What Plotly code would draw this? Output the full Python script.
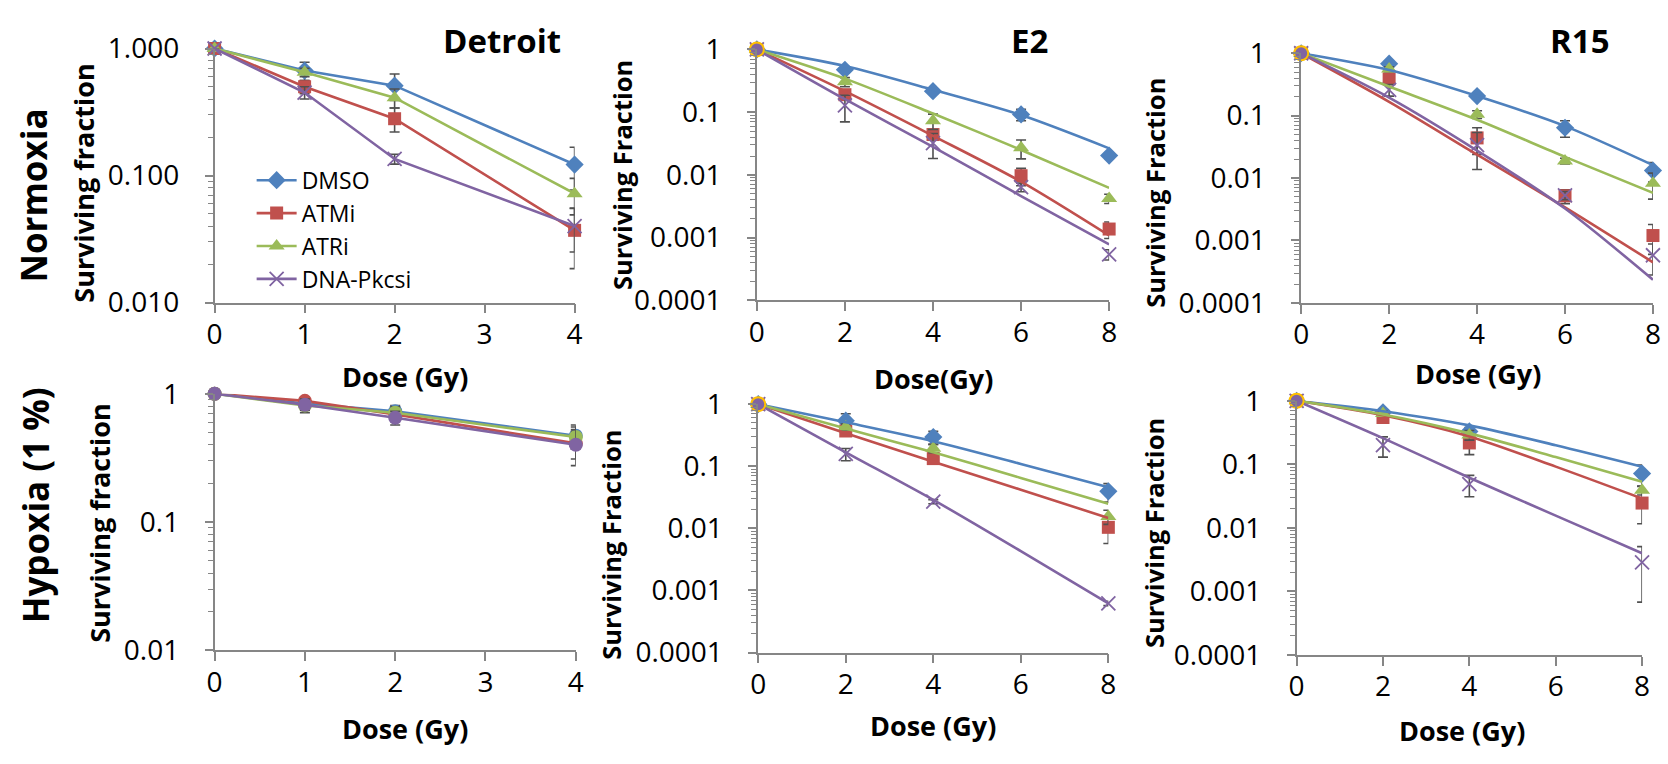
import plotly.graph_objects as go

W, H = 1668, 764

# ---- series names and colours ----
series = ["DMSO", "ATMi", "ATRi", "DNA-Pkcsi"]
colors = {"DMSO": "#4F81BD", "ATMi": "#C0504D", "ATRi": "#9BBB59", "DNA-Pkcsi": "#8064A2"}
symbols = {"DMSO": "diamond", "ATMi": "square", "ATRi": "triangle-up", "DNA-Pkcsi": "x-thin"}

# ---- Detroit ----
detroit_dose = [0, 1, 2, 4]
detroit_norm = {
    "DMSO": [1, 0.67, 0.51, 0.122],
    "ATMi": [1, 0.50, 0.28, 0.037],
    "ATRi": [1, 0.65, 0.41, 0.072],
    "DNA-Pkcsi": [1, 0.45, 0.135, 0.040],
}
detroit_norm_err = {
    "DMSO": [0, 0.11, 0.12, 0.045],
    "ATMi": [0, 0.06, 0.06, 0.0185],
    "ATRi": [0, 0.05, 0.07, 0.023],
    "DNA-Pkcsi": [0, 0.05, 0.012, 0.015],
}
detroit_hyp = {
    "DMSO": [1, 0.84, 0.73, 0.47],
    "ATMi": [1, 0.88, 0.69, 0.41],
    "ATRi": [1, 0.81, 0.71, 0.46],
    "DNA-Pkcsi": [1, 0.82, 0.65, 0.40],
}
detroit_hyp_err = {
    "DMSO": [0, 0.08, 0.08, 0.10],
    "ATMi": [0, 0.05, 0.06, 0.10],
    "ATRi": [0, 0.10, 0.08, 0.09],
    "DNA-Pkcsi": [0, 0.08, 0.08, 0.125],
}

# ---- E2 / R15 normoxia (doses 0-8 Gy) ----
norm_dose = [0, 2, 4, 6, 8]
fit_dose = [0, 2, 4, 6, 8]
e2_norm = {
    "DMSO": [1, 0.475, 0.216, 0.092, 0.0203],
    "ATMi": [1, 0.19, 0.044, 0.0097, 0.00137],
    "ATRi": [1, 0.305, 0.073, 0.027, 0.0042],
    "DNA-Pkcsi": [1, 0.128, 0.032, 0.0064, 0.00054],
}
e2_norm_err = {
    "DMSO": [0, 0.05, 0.02, 0.019, 0.002],
    "ATMi": [0, 0.03, 0.008, 0.003, 0.0004],
    "ATRi": [0, 0.05, 0.02, 0.009, 0.0007],
    "DNA-Pkcsi": [0, 0.058, 0.0137, 0.001, 0.0001],
}
e2_norm_fit = {
    "DMSO": [1, 0.546, 0.228, 0.090, 0.0265],
    "ATMi": [1, 0.216, 0.042, 0.0078, 0.00108],
    "ATRi": [1, 0.343, 0.095, 0.025, 0.0062],
    "DNA-Pkcsi": [1, 0.161, 0.028, 0.0046, 0.00078],
}
r15_norm = {
    "DMSO": [1, 0.68, 0.206, 0.064, 0.0132],
    "ATMi": [1, 0.39, 0.044, 0.0052, 0.0012],
    "ATRi": [1, 0.557, 0.105, 0.0188, 0.0083],
    "DNA-Pkcsi": [1, 0.26, 0.0337, 0.0053, 0.00058],
}
r15_norm_err = {
    "DMSO": [0, 0.05, 0.02, 0.019, 0.0046],
    "ATMi": [0, 0.06, 0.02, 0.0013, 0.0006],
    "ATRi": [0, 0.05, 0.015, 0.002, 0.0037],
    "DNA-Pkcsi": [0, 0.054, 0.02, 0.0008, 0.0003],
}
r15_norm_fit = {
    "DMSO": [1, 0.538, 0.206, 0.068, 0.0161],
    "ATMi": [1, 0.167, 0.0237, 0.0034, 0.000447],
    "ATRi": [1, 0.293, 0.086, 0.0219, 0.0058],
    "DNA-Pkcsi": [1, 0.195, 0.0276, 0.00326, 0.000235],
}

# ---- E2 / R15 hypoxia ----
hyp_dose = [0, 2, 4, 8]
e2_hyp = {
    "DMSO": [1, 0.543, 0.295, 0.0395],
    "ATMi": [1, 0.37, 0.133, 0.0104],
    "ATRi": [1, 0.43, 0.195, 0.0156],
    "DNA-Pkcsi": [1, 0.158, 0.027, 0.00062],
}
e2_hyp_err = {
    "DMSO": [0, 0.16, 0.07, 0.013],
    "ATMi": [0, 0.05, 0.02, 0.0047],
    "ATRi": [0, 0.05, 0.03, 0.004],
    "DNA-Pkcsi": [0, 0.035, 0.002, 0.00005],
}
e2_hyp_fit = {
    "DMSO": [1, 0.51, 0.253, 0.109, 0.046],
    "ATMi": [1, 0.34, 0.118, 0.042, 0.0147],
    "ATRi": [1, 0.405, 0.168, 0.065, 0.025],
    "DNA-Pkcsi": [1, 0.168, 0.0288, 0.0043, 0.00062],
}
r15_hyp = {
    "DMSO": [1, 0.66, 0.33, 0.0715],
    "ATMi": [1, 0.545, 0.217, 0.0246],
    "ATRi": [1, 0.63, 0.29, 0.039],
    "DNA-Pkcsi": [1, 0.20, 0.049, 0.00288],
}
r15_hyp_err = {
    "DMSO": [0, 0.05, 0.05, 0.026],
    "ATMi": [0, 0.06, 0.075, 0.013],
    "ATRi": [0, 0.05, 0.05, 0.006],
    "DNA-Pkcsi": [0, 0.07, 0.018, 0.0022],
}
r15_hyp_fit = {
    "DMSO": [1, 0.685, 0.41, 0.20, 0.092],
    "ATMi": [1, 0.59, 0.274, 0.092, 0.029],
    "ATRi": [1, 0.61, 0.307, 0.13, 0.053],
    "DNA-Pkcsi": [1, 0.258, 0.0616, 0.0156, 0.004],
}

FONT = "'Open Sans', Lato, sans-serif"
AXIS_GRAY = "#868686"
ERR_GRAY = "#505050"

# panel boxes in pixels: x0, x1, y_top, y_bottom
panels = [
    dict(box=(208.6, 572.1, 30, 297.3), xr=4, dec=2),
    dict(box=(756.1, 1111.8, 31, 295), xr=8, dec=4),
    dict(box=(1305.7, 1660.9, 35, 297.7), xr=8, dec=4),
    dict(box=(208.6, 573.3, 393.3, 663.3), xr=4, dec=2),
    dict(box=(757.5, 1111, 404.3, 665.7), xr=8, dec=4),
    dict(box=(1301.1, 1649.9, 400.7, 668.3), xr=8, dec=4),
]
TICK_FONT = 28

fig = go.Figure()


def axis_names(i):
    s = "" if i == 0 else str(i + 1)
    return "x" + s, "y" + s


def marker_style(name, circle=False):
    if circle:
        return dict(symbol="circle", size=14, color=colors[name], line=dict(width=0))
    if name == "DNA-Pkcsi":
        return dict(symbol="x-thin", size=14, color=colors[name],
                    line=dict(width=1.8, color=colors[name]))
    size = {"DMSO": 14, "ATMi": 13, "ATRi": 14}[name]
    return dict(symbol=symbols[name], size=size, color=colors[name], line=dict(width=0))


def err(arr):
    return dict(type="data", array=arr, color=ERR_GRAY, thickness=1.6, width=5)


# Detroit: points joined by straight lines
for i, (vals, errs, circ) in enumerate([(detroit_norm, detroit_norm_err, False),
                                         (detroit_hyp, detroit_hyp_err, True)]):
    xa, ya = axis_names(0 if i == 0 else 3)
    for name in series:
        fig.add_trace(go.Scatter(
            x=detroit_dose, y=vals[name], mode="lines+markers", name=name,
            line=dict(color=colors[name], width=2.6),
            marker=marker_style(name, circ), error_y=err(errs[name]),
            xaxis=xa, yaxis=ya, cliponaxis=False,
            showlegend=(i == 0), legendgroup=name,
        ))

# E2 / R15: measured points with fitted survival curves
fit_panels = [
    (1, norm_dose, e2_norm, e2_norm_err, e2_norm_fit),
    (2, norm_dose, r15_norm, r15_norm_err, r15_norm_fit),
    (4, hyp_dose, e2_hyp, e2_hyp_err, e2_hyp_fit),
    (5, hyp_dose, r15_hyp, r15_hyp_err, r15_hyp_fit),
]
for idx, dose, vals, errs, fits in fit_panels:
    xa, ya = axis_names(idx)
    for name in series:
        fig.add_trace(go.Scatter(
            x=dose, y=vals[name], mode="markers", name=name,
            marker=marker_style(name), error_y=err(errs[name]),
            xaxis=xa, yaxis=ya, cliponaxis=False, showlegend=False,
        ))
    for name in series:
        fig.add_trace(go.Scatter(
            x=fit_dose, y=fits[name], mode="lines", name=name + " fit",
            line=dict(color=colors[name], width=2.6, shape="spline", smoothing=0.8),
            xaxis=xa, yaxis=ya, cliponaxis=False, showlegend=False,
        ))
    # unirradiated control point
    fig.add_trace(go.Scatter(
        x=[0], y=[1], mode="markers", name="control",
        marker=dict(symbol="circle", size=14, color="#8064A2",
                    line=dict(color="#FFC000", width=2)),
        xaxis=xa, yaxis=ya, cliponaxis=False, showlegend=False,
    ))

layout = {}
for i, p in enumerate(panels):
    x0, x1, yt, yb = p["box"]
    s = "" if i == 0 else str(i + 1)
    if p["dec"] == 2:
        tv = [0.01, 0.1, 1]
        tt = ["0.010", "0.100", "1.000"] if i == 0 else ["0.01", "0.1", "1"]
    else:
        tv = [0.0001, 0.001, 0.01, 0.1, 1]
        tt = ["0.0001", "0.001", "0.01", "0.1", "1"]
    layout["xaxis" + s] = dict(
        domain=[x0 / W, x1 / W], range=[0, p["xr"]], anchor="y" + s,
        tickmode="linear", tick0=0, dtick=1 if p["xr"] == 4 else 2,
        showline=True, linecolor=AXIS_GRAY, linewidth=1.5,
        ticks="outside", ticklen=9, tickcolor=AXIS_GRAY, tickwidth=1.5,
        showgrid=False, zeroline=False,
        tickfont=dict(family=FONT, size=TICK_FONT, color="#000"),
        ticklabelstandoff=-3,
    )
    layout["yaxis" + s] = dict(
        domain=[1 - yb / H, 1 - yt / H], type="log", range=[-p["dec"], 0],
        anchor="x" + s, tickvals=tv, ticktext=tt,
        showline=True, linecolor=AXIS_GRAY, linewidth=1.5,
        ticks="outside", ticklen=8, tickcolor=AXIS_GRAY, tickwidth=1.5,
        minor=dict(ticks="outside", ticklen=5, tickcolor=AXIS_GRAY, tickwidth=1.2,
                   dtick="D1", showgrid=False),
        showgrid=False, zeroline=False,
        tickfont=dict(family=FONT, size=TICK_FONT, color="#000"),
        ticklabelstandoff=20,
    )

annotations = []


def text(x, y, s, size, angle=0, bold=True):
    annotations.append(dict(
        x=x / W, y=1 - y / H, xref="paper", yref="paper", text=s, showarrow=False,
        textangle=angle, xanchor="center", yanchor="middle",
        font=dict(family=FONT, size=size, color="#000", weight="bold" if bold else "normal"),
    ))


# panel titles
text(499, 22, "Detroit", 33)
text(1031, 22, "E2", 33)
text(1587, 22, "R15", 33)
# row labels
text(26, 185, "Normoxia", 35, -90)
text(28, 511, "Hypoxia (1 %)", 35, -90)
# x-axis titles
text(401, 375, "Dose (Gy)", 27)
text(934, 377, "Dose(Gy)", 27)
text(1484, 372, "Dose (Gy)", 27)
text(401, 746, "Dose (Gy)", 27)
text(934, 742, "Dose (Gy)", 27)
text(1468, 748, "Dose (Gy)", 27)
# y-axis titles
text(76, 172, "Surviving fraction", 27, -90)
text(620, 163, "Surviving Fraction", 25.5, -90)
text(1158, 182, "Surviving Fraction", 25.5, -90)
text(93, 530, "Surviving fraction", 27, -90)
text(608, 552, "Surviving Fraction", 25.5, -90)
text(1157, 540, "Surviving Fraction", 25.5, -90)

fig.update_layout(
    width=W, height=H, margin=dict(l=0, r=0, t=0, b=0),
    paper_bgcolor="white", plot_bgcolor="white",
    annotations=annotations,
    legend=dict(x=246 / W, y=1 - 146 / H, xanchor="left", yanchor="top",
                bgcolor="rgba(0,0,0,0)", font=dict(family=FONT, size=23, color="#000"),
                itemwidth=40, tracegroupgap=0, traceorder="grouped"),
    **layout,
)

fig.write_html("out.html")
